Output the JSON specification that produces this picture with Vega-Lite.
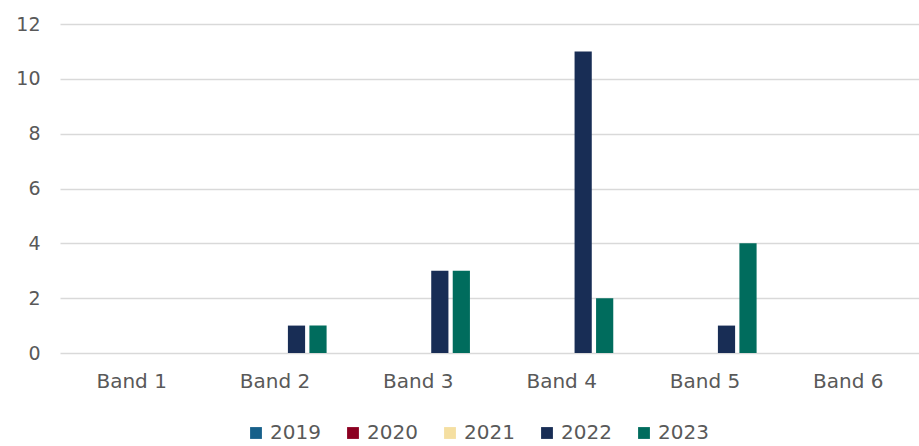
{
  "$schema": "https://vega.github.io/schema/vega-lite/v6.json",
  "width": 860,
  "height": 329,
  "autosize": {"type": "none"},
  "padding": {"left": 60, "top": 24, "right": 0, "bottom": 93},
  "background": "white",
  "config": {
    "font": "DejaVu Sans",
    "view": {"stroke": null},
    "axis": {"labelColor": "#595959", "labelFontSize": 19, "ticks": false, "domain": false, "title": null, "gridColor": "#d9d9d9", "gridWidth": 1.5}
  },
  "data": {
    "values": [
      {"band": "Band 1", "year": "2019", "value": 0},
      {"band": "Band 1", "year": "2020", "value": 0},
      {"band": "Band 1", "year": "2021", "value": 0},
      {"band": "Band 1", "year": "2022", "value": 0},
      {"band": "Band 1", "year": "2023", "value": 0},
      {"band": "Band 2", "year": "2019", "value": 0},
      {"band": "Band 2", "year": "2020", "value": 0},
      {"band": "Band 2", "year": "2021", "value": 0},
      {"band": "Band 2", "year": "2022", "value": 1},
      {"band": "Band 2", "year": "2023", "value": 1},
      {"band": "Band 3", "year": "2019", "value": 0},
      {"band": "Band 3", "year": "2020", "value": 0},
      {"band": "Band 3", "year": "2021", "value": 0},
      {"band": "Band 3", "year": "2022", "value": 3},
      {"band": "Band 3", "year": "2023", "value": 3},
      {"band": "Band 4", "year": "2019", "value": 0},
      {"band": "Band 4", "year": "2020", "value": 0},
      {"band": "Band 4", "year": "2021", "value": 0},
      {"band": "Band 4", "year": "2022", "value": 11},
      {"band": "Band 4", "year": "2023", "value": 2},
      {"band": "Band 5", "year": "2019", "value": 0},
      {"band": "Band 5", "year": "2020", "value": 0},
      {"band": "Band 5", "year": "2021", "value": 0},
      {"band": "Band 5", "year": "2022", "value": 1},
      {"band": "Band 5", "year": "2023", "value": 4},
      {"band": "Band 6", "year": "2019", "value": 0},
      {"band": "Band 6", "year": "2020", "value": 0},
      {"band": "Band 6", "year": "2021", "value": 0},
      {"band": "Band 6", "year": "2022", "value": 0},
      {"band": "Band 6", "year": "2023", "value": 0}
    ]
  },
  "mark": {"type": "bar", "strokeWidth": 0},
  "encoding": {
    "x": {
      "field": "band", "type": "nominal",
      "scale": {"paddingInner": 0.25, "paddingOuter": 0.125},
      "axis": {"labelAngle": 0, "labelPadding": 18, "labelFontSize": 20, "grid": false}
    },
    "xOffset": {"field": "year", "type": "nominal", "scale": {"paddingInner": 0.2, "paddingOuter": 0.1}},
    "y": {
      "field": "value", "type": "quantitative",
      "scale": {"domain": [0, 12]},
      "axis": {"values": [0, 2, 4, 6, 8, 10, 12], "labelPadding": 20, "grid": true}
    },
    "color": {
      "field": "year", "type": "nominal",
      "scale": {"domain": ["2019", "2020", "2021", "2022", "2023"], "range": ["#17608A", "#8C0021", "#F5DFA1", "#182D55", "#006C5D"]},
      "legend": {"title": null, "orient": "none", "legendX": 186, "legendY": 399, "direction": "horizontal", "symbolType": "square", "symbolSize": 140, "symbolStrokeWidth": 0, "labelFontSize": 20, "labelColor": "#595959", "columnPadding": 22, "labelOffset": 4}
    }
  }
}
